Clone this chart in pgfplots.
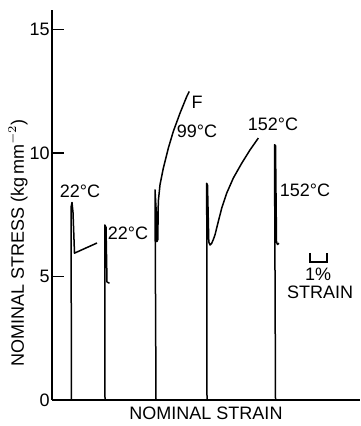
\documentclass[border=0pt]{standalone}
\usepackage{fontspec}
\setmainfont{Liberation Sans}
\usepackage{pgfplots}
\pgfplotsset{compat=1.18}
\tikzset{curve/.style={black, line width=0.75pt, line join=round, mark=none}}
\begin{document}
\begin{tikzpicture}[font=\fontsize{9}{10}\selectfont]
\begin{axis}[
  scale only axis, width=154pt, height=195pt,
  xmin=52, xmax=360, ymin=0, ymax=15.8,
  axis lines=left, axis line style={-, line width=0.7pt},
  xtick=\empty, ytick={0,5,10,15},
  tick align=inside, major tick length=6pt,
  tick style={line width=0.7pt, black},
  /pgf/number format/assume math mode=true,
  yticklabel style={font=\fontsize{9}{10}\selectfont, inner xsep=1pt},
  clip=false,
]
% 22 C, first test
\addplot[curve] coordinates {(71.5,0) (71,7.8) (72,8.0) (73,7.6) (74.5,5.95) (97,6.36)};
% 22 C, second test
\addplot[curve] coordinates {(105,0) (104.8,7.09) (106,7.0) (107,4.78) (109.5,4.73)};
% 99 C
\addplot[curve] coordinates {(156,0) (155,8.51) (156.3,7.6) (157,6.42) (157.8,6.5) (158.3,8.04) (160,8.72) (163.3,9.39) (168.3,10.2) (173.3,10.88) (180,11.62) (186.7,12.29) (189.3,12.5)};
% 152 C, first test
\addplot[curve] coordinates {(207,0) (206.7,8.78) (207.5,8.7) (208.8,6.4) (210,6.28) (211.7,6.35) (213.3,6.5) (215,6.69) (218.3,7.23) (221.7,7.77) (226.7,8.38) (233.3,8.99) (241.7,9.59) (250,10.13) (258.3,10.61)};
% 152 C, second test
\addplot[curve] coordinates {(275.5,0) (274.5,10.34) (275.5,10.3) (276.5,6.4) (277.5,6.3) (279,6.35)};
% scale bar
\draw[line width=0.75pt] (axis cs:310,5.96) -- (axis cs:310,5.59) -- (axis cs:327,5.59) -- (axis cs:327,5.96);
\node at (axis cs:80,8.47) {22°C};
\node at (axis cs:128,6.77) {22°C};
\node at (axis cs:197,12.04) {F};
\node at (axis cs:197,10.9) {99°C};
\node at (axis cs:273,11.15) {152°C};
\node at (axis cs:305,8.51) {152°C};
\node at (axis cs:318,5.1) {1\%};
\node at (axis cs:320,4.38) {STRAIN};
\node at (axis cs:206,-0.53) {NOMINAL STRAIN};
\node[rotate=90] at (axis cs:18,6.36) {NOMINAL STRESS (kg\,mm$^{-2}$)};
\end{axis}
\pgfresetboundingbox
\useasboundingbox (-26pt,-13pt) rectangle (154pt,200pt);
\end{tikzpicture}
\end{document}
